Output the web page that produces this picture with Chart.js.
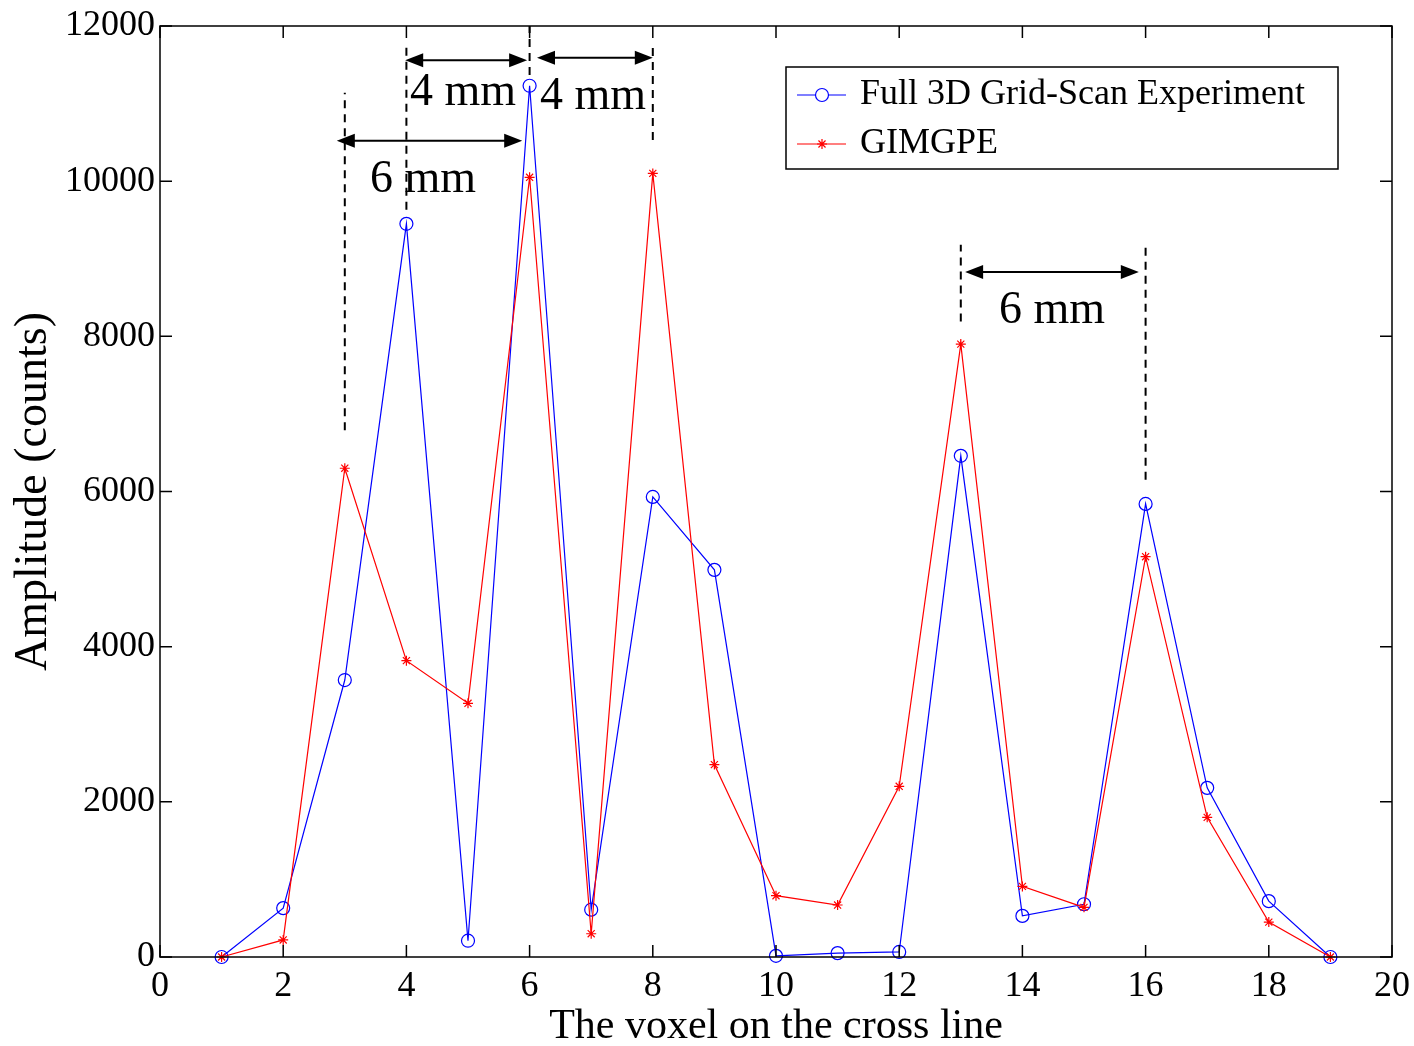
<!DOCTYPE html>
<html>
<head>
<meta charset="utf-8">
<script src="https://cdn.jsdelivr.net/npm/chart.js@4/dist/chart.umd.min.js"></script>
<style>
html, body { margin: 0; padding: 0; background: #fff; }
</style>
</head>
<body>
<canvas id="chart" width="1414" height="1046"></canvas>
<script>
'use strict';

var serif = '"Liberation Serif", "Times New Roman", serif';

var voxels = [1, 2, 3, 4, 5, 6, 7, 8, 9, 10, 11, 12, 13, 14, 15, 16, 17, 18, 19];
var fullScan = [0, 630, 3570, 9450, 210, 11230, 610, 5930, 4990, 15, 50, 65, 6460, 530, 680, 5840, 2180, 720, 0];
var gimgpe = [0, 220, 6300, 3820, 3270, 10050, 300, 10100, 2480, 790, 670, 2200, 7900, 910, 640, 5160, 1800, 450, 0];

var seriesNames = ['Full 3D Grid-Scan Experiment', 'GIMGPE'];

// dashed markers: x, from y, to y
var dashedLines = [
    [3, 6790, 11140],
    [4, 9630, 11720],
    [6, 11370, 12000],
    [8, 10530, 11720],
    [13, 8190, 9180],
    [16, 6150, 9180]
];
// double arrows: x from, x to, y
var arrows = [
    [3.98, 5.96, 11560],
    [6.12, 8.0, 11590],
    [2.87, 5.88, 10520],
    [13.07, 15.89, 8830]
];
// gap labels: text, x, y
var gapLabels = [
    ['4 mm', 4.92, 11140],
    ['4 mm', 7.03, 11085],
    ['6 mm', 4.27, 10015],
    ['6 mm', 14.48, 8330]
];

function toPoints(xs, ys) {
    var pts = [];
    for (var i = 0; i < xs.length; i++) {
        pts.push({x: xs[i], y: ys[i]});
    }
    return pts;
}

function drawStar(ctx, x, y, r) {
    ctx.beginPath();
    ctx.moveTo(x - r, y); ctx.lineTo(x + r, y);
    ctx.moveTo(x, y - r); ctx.lineTo(x, y + r);
    var d = r * 0.707;
    ctx.moveTo(x - d, y - d); ctx.lineTo(x + d, y + d);
    ctx.moveTo(x - d, y + d); ctx.lineTo(x + d, y - d);
    ctx.stroke();
}

function drawArrowHead(ctx, tipX, y, dir) {
    // dir = -1 points left, +1 points right
    ctx.beginPath();
    ctx.moveTo(tipX, y);
    ctx.lineTo(tipX - dir * 18, y - 7);
    ctx.lineTo(tipX - dir * 18, y + 7);
    ctx.closePath();
    ctx.fill();
}

var frameAndNotes = {
    id: 'frameAndNotes',
    afterDatasetsDraw: function(chart) {
        var ctx = chart.ctx;
        var area = chart.chartArea;
        var xs = chart.scales.x;
        var ys = chart.scales.y;
        ctx.save();

        // box and inward ticks on all four sides
        ctx.strokeStyle = '#000';
        ctx.lineWidth = 1.5;
        ctx.strokeRect(area.left, area.top, area.right - area.left, area.bottom - area.top);
        ctx.beginPath();
        xs.ticks.forEach(function(t) {
            var px = xs.getPixelForValue(t.value);
            ctx.moveTo(px, area.bottom); ctx.lineTo(px, area.bottom - 12);
            ctx.moveTo(px, area.top); ctx.lineTo(px, area.top + 12);
        });
        ys.ticks.forEach(function(t) {
            var py = ys.getPixelForValue(t.value);
            ctx.moveTo(area.left, py); ctx.lineTo(area.left + 12, py);
            ctx.moveTo(area.right, py); ctx.lineTo(area.right - 12, py);
        });
        ctx.stroke();

        // dashed guides
        ctx.setLineDash([8, 6]);
        ctx.lineWidth = 2;
        ctx.beginPath();
        dashedLines.forEach(function(d) {
            var px = xs.getPixelForValue(d[0]);
            ctx.moveTo(px, ys.getPixelForValue(d[1]));
            ctx.lineTo(px, ys.getPixelForValue(d[2]));
        });
        ctx.stroke();
        ctx.setLineDash([]);

        // double arrows
        ctx.fillStyle = '#000';
        arrows.forEach(function(a) {
            var x1 = xs.getPixelForValue(a[0]);
            var x2 = xs.getPixelForValue(a[1]);
            var py = ys.getPixelForValue(a[2]);
            ctx.beginPath();
            ctx.moveTo(x1 + 10, py); ctx.lineTo(x2 - 10, py);
            ctx.stroke();
            drawArrowHead(ctx, x1, py, -1);
            drawArrowHead(ctx, x2, py, 1);
        });

        ctx.font = '46px ' + serif;
        ctx.textAlign = 'center';
        ctx.textBaseline = 'middle';
        gapLabels.forEach(function(g) {
            ctx.fillText(g[0], xs.getPixelForValue(g[1]), ys.getPixelForValue(g[2]));
        });

        // legend
        ctx.lineWidth = 1.5;
        ctx.strokeStyle = '#000';
        ctx.fillStyle = '#fff';
        ctx.fillRect(786, 67, 552, 102);
        ctx.strokeRect(786, 67, 552, 102);
        var rows = [95, 144];
        chart.data.datasets.forEach(function(ds, i) {
            var ry = rows[i];
            ctx.strokeStyle = ds.borderColor;
            ctx.lineWidth = 1.2;
            ctx.beginPath();
            ctx.moveTo(797, ry); ctx.lineTo(846, ry);
            ctx.stroke();
            if (ds.pointStyle === 'circle') {
                ctx.fillStyle = '#fff';
                ctx.beginPath();
                ctx.arc(822, ry, ds.pointRadius, 0, Math.PI * 2);
                ctx.fill();
                ctx.stroke();
            } else {
                drawStar(ctx, 822, ry, ds.pointRadius);
            }
            ctx.fillStyle = '#000';
            ctx.font = '36px ' + serif;
            ctx.textAlign = 'left';
            ctx.fillText(seriesNames[i], 860, ry);
        });
        ctx.restore();
    }
};

var ctx = document.getElementById('chart').getContext('2d');

var chart = new Chart(ctx, {
    type: 'line',
    data: {
        datasets: [
            {
                label: seriesNames[0],
                data: toPoints(voxels, fullScan),
                borderColor: '#0000ff',
                backgroundColor: 'rgba(0,0,0,0)',
                borderWidth: 1.2,
                pointStyle: 'circle',
                pointRadius: 6.5,
                pointBorderWidth: 1.2,
                pointBackgroundColor: 'rgba(0,0,0,0)',
                tension: 0,
                clip: false,
                order: 2
            },
            {
                label: seriesNames[1],
                data: toPoints(voxels, gimgpe),
                borderColor: '#ff0000',
                backgroundColor: 'rgba(0,0,0,0)',
                borderWidth: 1.2,
                pointStyle: 'star',
                pointRadius: 5,
                pointBorderWidth: 1.2,
                tension: 0,
                clip: false,
                order: 1
            }
        ]
    },
    options: {
        responsive: false,
        animation: false,
        devicePixelRatio: 1,
        layout: { padding: { top: 26, right: 22, left: 0, bottom: 0 } },
        plugins: {
            legend: { display: false },
            tooltip: { enabled: false },
            title: { display: false }
        },
        scales: {
            x: {
                type: 'linear',
                min: 0,
                max: 20,
                grid: { display: false, drawTicks: false },
                border: { display: false },
                ticks: {
                    stepSize: 2,
                    color: '#000',
                    padding: 8,
                    maxRotation: 0,
                    font: { family: serif, size: 36 }
                },
                title: {
                    display: true,
                    text: 'The voxel on the cross line',
                    color: '#000',
                    font: { family: serif, size: 42, lineHeight: 0.9 },
                    padding: { top: 0, bottom: 0 }
                },
                afterFit: function(scale) {
                    scale.height = 89;
                    scale.paddingLeft = 0;
                    scale.paddingRight = 0;
                }
            },
            y: {
                min: 0,
                max: 12000,
                grid: { display: false, drawTicks: false },
                border: { display: false },
                ticks: {
                    stepSize: 2000,
                    color: '#000',
                    padding: 5,
                    font: { family: serif, size: 36 },
                    callback: function(v) { return String(v); }
                },
                title: {
                    display: true,
                    text: 'Amplitude (counts)',
                    color: '#000',
                    font: { family: serif, size: 46, lineHeight: 0.9 },
                    padding: { top: 13, bottom: 0 }
                },
                afterFit: function(scale) {
                    scale.width = 160;
                    scale.paddingTop = 0;
                    scale.paddingBottom = 0;
                }
            }
        }
    },
    plugins: [frameAndNotes]
});
</script>
</body>
</html>
